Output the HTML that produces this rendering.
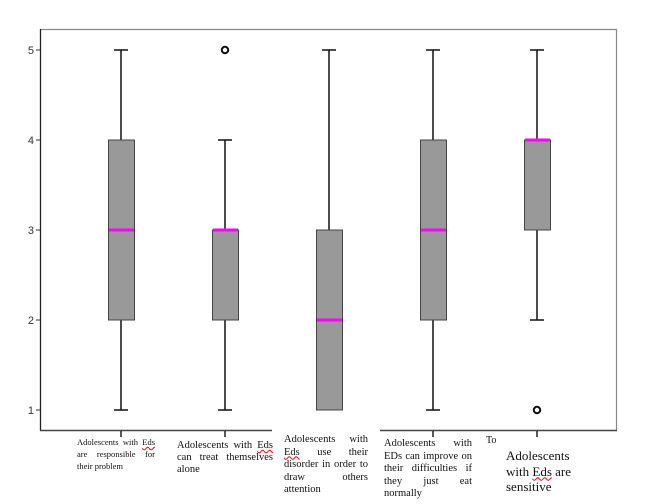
<!DOCTYPE html>
<html><head><style>
body{margin:0;background:#fff;}
.l{position:absolute;font-family:"Liberation Serif",serif;color:#111;text-align:justify;background:#fff;}
.l span{color:#111;text-decoration:underline wavy red;text-decoration-thickness:1px;}
</style></head><body>
<div style="position:relative;width:656px;height:504px;overflow:hidden;">
<svg width="656" height="504" style="position:absolute;left:0;top:0" font-family="Liberation Sans, sans-serif">
<line x1="40" y1="29.5" x2="617" y2="29.5" stroke="#888" stroke-width="1.2"/>
<line x1="616.5" y1="29" x2="616.5" y2="430" stroke="#888" stroke-width="1.2"/>
<line x1="40.5" y1="29" x2="40.5" y2="431" stroke="#222" stroke-width="1.3"/>
<line x1="40" y1="430.5" x2="617" y2="430.5" stroke="#444" stroke-width="1.5"/>
<g stroke="#333" stroke-width="1">
<line x1="36" y1="50" x2="40" y2="50"/><line x1="36" y1="140" x2="40" y2="140"/><line x1="36" y1="230" x2="40" y2="230"/><line x1="36" y1="320" x2="40" y2="320"/><line x1="36" y1="410" x2="40" y2="410"/>
</g>
<g font-size="11" fill="#333" text-anchor="end">
<text x="34" y="54">5</text><text x="34" y="144">4</text><text x="34" y="234">3</text><text x="34" y="324">2</text><text x="34" y="414">1</text>
</g>
<g stroke="#222" stroke-width="1.5">
<line x1="121" y1="431" x2="121" y2="437"/><line x1="225" y1="431" x2="225" y2="437"/><line x1="433" y1="431" x2="433" y2="437"/><line x1="537" y1="431" x2="537" y2="437"/>
</g>
<rect x="272" y="428" width="108" height="8" fill="#fff"/>
<g stroke="#111" stroke-width="1.5" fill="none">
<line x1="121" y1="50" x2="121" y2="140"/><line x1="114" y1="50" x2="128" y2="50"/>
<line x1="121" y1="320" x2="121" y2="410"/><line x1="114" y1="410" x2="128" y2="410"/>
<line x1="225" y1="140" x2="225" y2="230"/><line x1="218" y1="140" x2="232" y2="140"/>
<line x1="225" y1="320" x2="225" y2="410"/><line x1="218" y1="410" x2="232" y2="410"/>
<circle cx="225" cy="50" r="3.2" stroke-width="2"/>
<line x1="329" y1="50" x2="329" y2="230"/><line x1="322" y1="50" x2="336" y2="50"/>
<line x1="433" y1="50" x2="433" y2="140"/><line x1="426" y1="50" x2="440" y2="50"/>
<line x1="433" y1="320" x2="433" y2="410"/><line x1="426" y1="410" x2="440" y2="410"/>
<line x1="537" y1="50" x2="537" y2="140"/><line x1="530" y1="50" x2="544" y2="50"/>
<line x1="537" y1="230" x2="537" y2="320"/><line x1="530" y1="320" x2="544" y2="320"/>
<circle cx="537" cy="410" r="3.2" stroke-width="2"/>
</g>
<g fill="#999" stroke="#444" stroke-width="1">
<rect x="108.5" y="140" width="26" height="180"/>
<rect x="212.5" y="230" width="26" height="90"/>
<rect x="316.5" y="230" width="26" height="180"/>
<rect x="420.5" y="140" width="26" height="180"/>
<rect x="524.5" y="140" width="26" height="90"/>
</g>
<g stroke="#ff00ff" stroke-width="3">
<line x1="109" y1="230" x2="134" y2="230"/>
<line x1="213" y1="230" x2="238" y2="230"/>
<line x1="317" y1="320" x2="342" y2="320"/>
<line x1="421" y1="230" x2="446" y2="230"/>
<line x1="525" y1="140" x2="550" y2="140"/>
</g>
</svg>
<div class="l" style="left:77px;top:436px;width:78px;font-size:8.5px;line-height:12px;background:none;">Adolescents with <span>Eds</span> are responsible for their problem</div>
<div class="l" style="left:177px;top:440px;width:96px;font-size:10.5px;line-height:12px;height:36px;overflow:hidden;background:none;">Adolescents with <span>Eds</span> can treat themselves alone</div>
<div class="l" style="left:284px;top:432px;width:84px;font-size:10.5px;line-height:12.6px;padding-top:2px;background:none;">Adolescents with <span>Eds</span> use their disorder in order to draw others attention</div>
<div class="l" style="left:384px;top:438px;width:88px;font-size:10.5px;line-height:12.6px;background:none;">Adolescents with EDs can improve on their difficulties if they just eat normally</div>
<div class="l" style="left:486px;top:435px;font-size:10px;background:none;">To</div>
<div class="l" style="left:506px;top:448px;width:70px;font-size:13px;line-height:15.5px;text-align:left;background:none;">Adolescents with <span>Eds</span> are sensitive</div>
</div>
</body></html>
